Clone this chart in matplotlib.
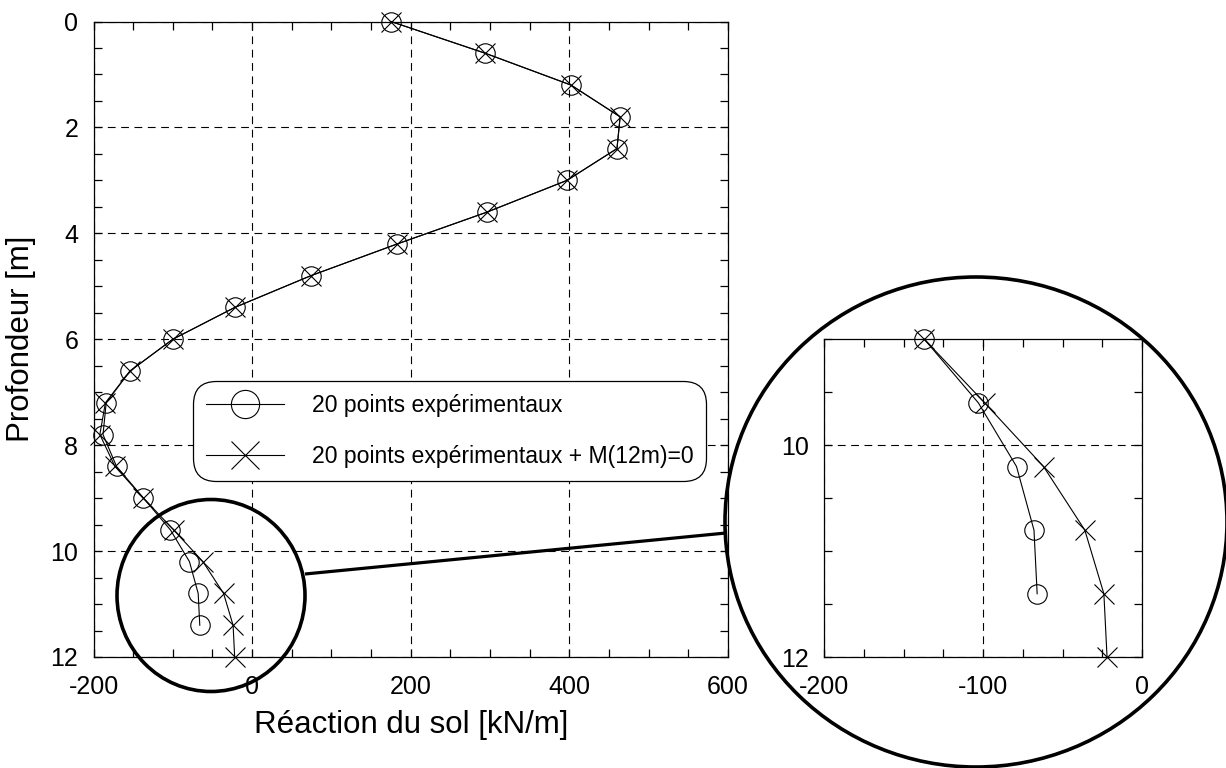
import matplotlib
matplotlib.use("Agg")
import matplotlib.pyplot as plt
from matplotlib.patches import Ellipse
from matplotlib.ticker import MultipleLocator

plt.rcParams["font.family"] = ["Liberation Sans", "DejaVu Sans"]
plt.rcParams["axes.unicode_minus"] = False

# ── Data ──────────────────────────────────────────────────────────────────────
depth = [0.0, 0.6, 1.2, 1.8, 2.4, 3.0, 3.6, 4.2, 4.8, 5.4, 6.0,
         6.6, 7.2, 7.8, 8.4, 9.0, 9.6, 10.2, 10.8, 11.4, 12.0]

# 20 experimental points (0 .. 11.4 m)
reaction_20pts = [175, 294, 402, 464, 460, 397, 296, 183, 74, -22, -100,
                  -154, -184, -188, -171, -137, -103, -79, -68, -66]

# 20 experimental points + M(12m)=0 (0 .. 12 m)
reaction_20pts_m0 = [175, 294, 402, 464, 460, 397, 296, 183, 74, -22, -100,
                     -154, -185, -192, -173, -137, -99, -62, -36, -24, -22]

label_20pts = "20 points expérimentaux"
label_20pts_m0 = "20 points expérimentaux + M(12m)=0"

x_ticks_main = [-200, 0, 200, 400, 600]
y_ticks_main = [0, 2, 4, 6, 8, 10, 12]

# ── Layout (pixels of the 1226x768 figure) ───────────────────────────────────
W, H = 1226, 768
MAIN_BOX = (93.5, 21.5, 728, 657)       # left, top, right, bottom
INSET_BOX = (824.3, 339.3, 1142, 657.3)


def fig_rect(box):
    l, t, r, b = box
    return [l / W, 1 - b / H, (r - l) / W, (b - t) / H]


def style_axes(ax, xmajor, xminor, ymajor, yminor):
    ax.xaxis.set_major_locator(MultipleLocator(xmajor))
    ax.xaxis.set_minor_locator(MultipleLocator(xminor))
    ax.yaxis.set_major_locator(MultipleLocator(ymajor))
    ax.yaxis.set_minor_locator(MultipleLocator(yminor))
    ax.tick_params(which="both", direction="in", top=True, right=True,
                   length=6, width=0.9, labelsize=18)
    ax.tick_params(axis="x", which="both", pad=13)
    ax.tick_params(axis="y", which="both", pad=11)
    ax.grid(True, which="major", color="black", linestyle=(0, (7, 5)),
            linewidth=0.8)
    for sp in ax.spines.values():
        sp.set_linewidth(0.9)


fig = plt.figure(figsize=(W / 100, H / 100), dpi=100)

# ── Main axes ────────────────────────────────────────────────────────────────
ax = fig.add_axes(fig_rect(MAIN_BOX))
style_axes(ax, 200, 50, 2, 0.5)
ax.set_xlim(-200, 600)
ax.set_ylim(12, 0)
ax.set_xticks(x_ticks_main)
ax.set_yticks(y_ticks_main)
ax.set_xlabel("Réaction du sol [kN/m]", fontsize=22.5, labelpad=8)
ax.set_ylabel("Profondeur [m]", fontsize=22.5, labelpad=10)

ax.plot(reaction_20pts_m0, depth, color="black", lw=0.8, marker="x", ms=14,
        mew=0.8, label=label_20pts_m0, clip_on=False, zorder=3)
ax.plot(reaction_20pts, depth[:len(reaction_20pts)], color="black", lw=0.8,
        marker="o", ms=14, mfc="none", mec="black", mew=0.8,
        label=label_20pts, clip_on=False, zorder=3)

handles, labels = ax.get_legend_handles_labels()
leg = ax.legend(handles[::-1], labels[::-1], loc="upper left",
                bbox_to_anchor=(193 / W, 1 - 381 / H),
                bbox_transform=fig.transFigure, borderaxespad=0,
                fontsize=16.6, markerscale=1.45, handlelength=3.4,
                handletextpad=1.2, borderpad=0.55, labelspacing=1.25,
                fancybox=True, framealpha=1, edgecolor="black")
leg.get_frame().set_linewidth(0.9)
leg.get_frame().set_boxstyle("round", pad=0, rounding_size=1.0)

# ── Inset (zoom 9 m .. 12 m) ─────────────────────────────────────────────────
axi = fig.add_axes(fig_rect(INSET_BOX))
style_axes(axi, 100, 25, 2, 0.5)
axi.set_xlim(-200, 0)
axi.set_ylim(12, 9)

first = depth.index(9.0)
axi.plot(reaction_20pts_m0[first:], depth[first:], color="black", lw=0.8,
         marker="x", ms=14, mew=0.8, clip_on=False, zorder=3)
axi.plot(reaction_20pts[first:], depth[first:len(reaction_20pts)],
         color="black", lw=0.8, marker="o", ms=14, mfc="none", mec="black",
         mew=0.8, clip_on=False, zorder=3)

# ── Zoom decoration (circles + connector) in figure pixels ───────────────────
ov = fig.add_axes([0, 0, 1, 1], zorder=5)
ov.set_xlim(0, W)
ov.set_ylim(H, 0)
ov.axis("off")
ov.patch.set_alpha(0)
ov.add_patch(Ellipse((211, 595.5), 188, 192, fill=False, lw=2.6,
                     edgecolor="black"))
ov.add_patch(Ellipse((976, 522), 502, 490, fill=False, lw=2.6,
                     edgecolor="black"))
ov.plot([305, 726], [574, 533], color="black", lw=2.3,
        solid_capstyle="butt")

fig.savefig("out.png", dpi=100)
